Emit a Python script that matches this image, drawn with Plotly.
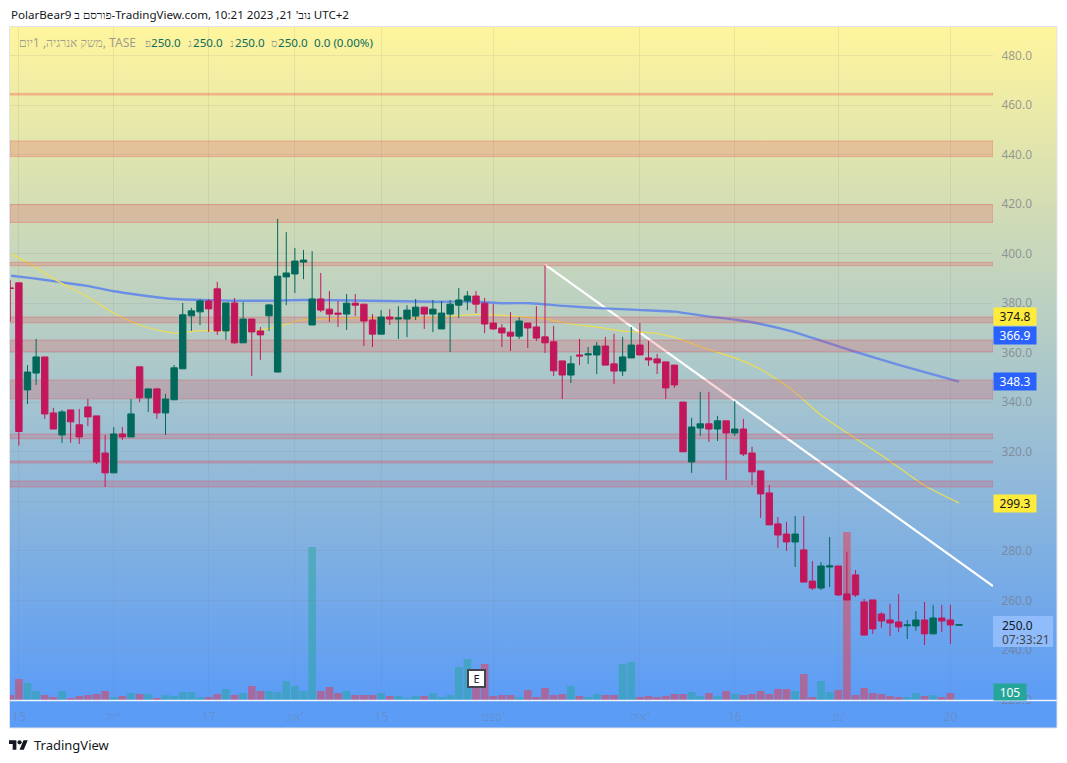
import base64
import plotly.graph_objects as go

W, H = 1067, 763

# ---- Data (index -1 is the bar cut by the left edge) ----
open_ = [386.1, 388.2, 345.0, 351.8, 358.3, 335.7, 326.8, 336.9, 330.9, 338.1, 334.5, 319.5, 311.5, 327.2, 326.0,
         354.3, 341.8, 345.4, 335.7, 341.0, 353.5, 374.9, 376.5, 380.9, 385.8, 368.8, 380.1, 364.0, 373.6, 368.8,
         374.9, 352.2, 390.6, 391.8, 396.6, 371.2, 381.7, 377.6, 376.0, 375.6, 380.0, 379.6, 373.2, 367.5, 374.4,
         373.6, 373.6, 374.8, 378.4, 375.6, 369.6, 375.6, 379.2, 380.9, 382.9, 380.0, 372.0, 370.0, 368.3, 366.7,
         372.0, 370.4, 366.4, 364.4, 356.7, 351.0, 359.1, 359.1, 359.1, 362.7, 355.5, 352.6, 357.9, 363.1, 357.9,
         357.5, 356.3, 355.0, 340.1, 315.9, 329.6, 331.3, 329.2, 332.5, 327.6, 329.2, 319.5, 312.3, 303.4, 290.9,
         286.8, 283.6, 280.4, 267.8, 265.0, 273.5, 273.9, 262.6, 270.3, 259.4, 260.2, 254.5, 252.1, 251.3, 249.8,
         249.7, 252.1, 246.5, 252.9, 252.1, 250.0]
high = [389.4, 388.2, 355.0, 365.6, 358.3, 337.7, 336.9, 336.9, 337.3, 341.3, 334.5, 326.8, 330.0, 330.0, 341.3,
        354.3, 345.4, 345.8, 343.4, 355.0, 380.1, 378.1, 381.7, 381.7, 388.6, 380.1, 382.1, 380.5, 373.6, 370.4,
        379.7, 414.0, 408.7, 402.3, 401.5, 401.0, 392.2, 384.9, 380.9, 383.7, 383.7, 379.6, 375.6, 377.2, 377.6,
        378.8, 379.2, 381.7, 378.4, 381.3, 380.9, 381.3, 386.1, 384.9, 384.9, 382.1, 379.6, 371.6, 376.4, 374.4,
        372.0, 378.8, 395.2, 370.8, 356.7, 358.7, 365.6, 362.3, 364.4, 366.4, 367.6, 366.4, 370.4, 372.0, 364.8,
        359.5, 356.3, 355.0, 340.1, 333.7, 344.2, 344.2, 334.5, 332.5, 340.5, 333.3, 322.0, 312.3, 306.6, 293.7,
        291.7, 294.1, 294.1, 275.9, 275.5, 285.6, 273.9, 279.6, 272.3, 260.6, 260.2, 255.3, 258.6, 262.6, 252.1,
        255.7, 259.4, 258.2, 258.2, 258.2, 250.2]
low = [372.6, 322.5, 339.3, 347.0, 333.3, 329.2, 323.6, 323.6, 323.2, 330.4, 315.1, 305.8, 311.5, 324.8, 326.0,
       340.1, 336.1, 333.3, 326.8, 341.0, 353.5, 368.8, 371.2, 368.4, 367.2, 365.2, 363.6, 364.0, 350.6, 357.1,
       368.8, 352.2, 379.2, 384.1, 389.7, 371.2, 376.4, 372.4, 370.4, 369.2, 374.8, 362.7, 362.3, 367.5, 371.2,
       365.5, 366.3, 373.2, 369.6, 368.3, 369.6, 360.3, 374.0, 377.2, 376.0, 367.9, 369.2, 362.3, 360.7, 365.5,
       361.9, 364.7, 359.9, 350.6, 341.3, 347.8, 355.0, 355.5, 351.4, 355.0, 347.4, 350.6, 357.9, 359.1, 354.7,
       351.4, 341.3, 345.8, 320.0, 311.5, 326.4, 324.0, 324.4, 308.6, 326.4, 318.3, 306.6, 293.3, 290.5, 281.2,
       280.0, 273.5, 267.4, 264.2, 264.2, 265.4, 261.8, 260.2, 261.4, 246.0, 246.5, 248.9, 245.6, 247.3, 244.4,
       247.7, 242.0, 246.5, 247.3, 242.4, 250.0]
close = [386.0, 328.2, 352.2, 358.3, 335.3, 329.2, 336.1, 332.1, 326.0, 334.1, 315.9, 311.5, 327.2, 326.0, 335.3,
         341.8, 345.4, 335.7, 341.3, 353.9, 375.3, 376.9, 380.9, 377.7, 368.8, 380.1, 364.0, 373.6, 368.4, 367.2,
         379.3, 390.9, 392.2, 397.0, 397.4, 381.7, 377.2, 375.6, 375.6, 380.0, 379.2, 372.8, 367.5, 374.4, 373.6,
         374.0, 377.2, 378.4, 375.6, 377.6, 376.0, 379.6, 381.3, 382.9, 379.6, 371.6, 369.6, 368.0, 366.7, 372.8,
         370.0, 365.9, 364.0, 352.7, 351.0, 355.5, 358.7, 359.5, 362.7, 355.0, 352.6, 358.3, 363.1, 359.1, 357.1,
         355.9, 345.8, 347.0, 320.0, 330.0, 331.3, 329.2, 332.5, 327.6, 329.2, 319.1, 311.9, 303.0, 290.5, 286.4,
         283.6, 286.8, 267.4, 265.0, 273.9, 273.9, 262.2, 260.2, 262.2, 246.0, 248.5, 251.7, 250.9, 249.3, 250.1,
         252.1, 246.5, 252.9, 251.7, 250.1, 250.2]

# Volume, read as bar heights (thirds of a pixel)
volume = [15, 63, 51, 27, 15, 9, 27, 6, 12, 15, 18, 27, 9, 12, 21, 18, 18, 6, 15, 12, 24, 24, 9, 9, 18, 33, 15, 21,
          42, 27, 27, 24, 57, 42, 27, 459, 27, 39, 21, 27, 15, 15, 15, 21, 12, 12, 6, 12, 12, 21, 9, 15, 99, 123, 90,
          108, 12, 15, 15, 9, 30, 9, 36, 15, 18, 42, 12, 9, 18, 15, 15, 108, 114, 9, 12, 9, 12, 18, 18, 24, 12, 21, 12,
          27, 18, 15, 18, 27, 18, 33, 33, 27, 78, 9, 57, 24, 30, 504, 15, 36, 21, 18, 12, 9, 9, 21, 12, 15, 9, 21, 2]

yellow_x = [-0.9, 1.7, 4.4, 7.9, 11, 14, 16.4, 18, 21, 24, 27, 29.1, 30.7, 32.8, 34.9, 38.8, 43.5, 48.5, 53.1, 58.5,
            61.3, 64, 67.1, 69.8, 73.7, 76, 79.9, 83.3, 86, 89.5, 93, 96.4, 100.8, 104.9, 109]
yellow_y = [399.9, 395.0, 389.1, 382.7, 375.9, 371.2, 368.9, 367.9, 368.9, 368.8, 368.8, 369.8, 371.2, 373.2, 373.6,
            374.0, 373.9, 374.3, 375.5, 374.5, 373.5, 371.6, 370.3, 368.8, 367.9, 366.2, 361.4, 357.5, 353.3, 345.4,
            334.8, 326.8, 316.7, 306.6, 299.3]
blue_x = [-0.9, 1.7, 4.4, 7.9, 11, 14, 17.2, 21, 24.9, 29.1, 32.9, 40.6, 48.3, 52.9, 56, 59.3, 63.2, 67.8, 71.7, 76,
          79.4, 83.3, 85.6, 89.5, 96.4, 102.2, 109]
blue_y = [391.1, 390.0, 388.7, 387.0, 384.8, 383.3, 381.9, 381.3, 381.0, 381.0, 381.3, 381.0, 380.6, 380.6, 380.0,
          380.0, 378.9, 377.9, 377.3, 376.6, 374.9, 373.2, 371.9, 368.7, 361.0, 354.9, 348.3]
trend_x = [61, 112.94]
trend_y = [395.6, 265.8]

zone_top = [464.7, 445.5, 419.8, 396.5, 374.4, 365.1, 349.0, 327.2, 316.3, 308.2]
zone_bottom = [464.0, 439.2, 412.6, 395.1, 372.1, 360.4, 341.4, 325.3, 315.5, 305.8]

tick_idx = [0, 11, 22, 32, 42, 55, 72, 83, 95, 108]
tick_labels = ["15", "יול'", "17", "אוג'", "15", "ספט'", "אוק'", "16", "נוב'", "20"]

title_text = "PolarBear9 פורסם ב-TradingView.com, נוב' 21, 2023 10:21 UTC+2"
legend_name = "משק אנרגיה, 1יום, TASE"

# ---- Styles ----
FONT = "Noto Sans"
GREEN, RED = "#00695C", "#C2185B"
GRID = "rgba(120,123,134,0.13)"
TEXT = "rgba(120,123,134,0.72)"
X_RANGE = [-1.03, 112.94]
Y_RANGE = [219.8, 491.5]
index = list(range(-1, len(open_) - 1))


def px(v):
    return v / W


def py(v):
    return 1 - v / H


gradient = (f'<svg xmlns="http://www.w3.org/2000/svg" width="{W}" height="{H}">'
            '<defs><linearGradient id="g" x1="0" y1="0" x2="0" y2="1">'
            '<stop offset="0" stop-color="#FFF59D"/><stop offset="1" stop-color="#5B9CF6"/>'
            f'</linearGradient></defs><rect width="{W}" height="{H}" fill="url(#g)"/></svg>')
logo = ('<svg xmlns="http://www.w3.org/2000/svg" width="36" height="28" viewBox="0 0 36 28">'
        '<path fill="#131722" d="M14 22H7V11H0V4h14v18zM28 22h-8l7.5-18h8L28 22z"/>'
        '<circle fill="#131722" cx="20" cy="8" r="4"/></svg>')


def uri(svg):
    return "data:image/svg+xml;base64," + base64.b64encode(svg.encode()).decode()


fig = go.Figure()

# Lines first, then the zones tint them, as in the reference
fig.add_trace(go.Scatter(x=trend_x, y=trend_y, mode="lines", line=dict(color="#FFFFFF", width=2.2)))
fig.add_trace(go.Scatter(x=blue_x, y=blue_y, mode="lines",
                         line=dict(color="#6C8FE6", width=2.4, shape="spline", smoothing=0.6)))
fig.add_trace(go.Scatter(x=yellow_x, y=yellow_y, mode="lines",
                         line=dict(color="#EBDD55", width=1.2, shape="spline", smoothing=0.6)))
for top, bottom in zip(zone_top, zone_bottom):
    fig.add_trace(go.Scatter(
        x=[X_RANGE[0], X_RANGE[1], X_RANGE[1], X_RANGE[0], X_RANGE[0]],
        y=[top, top, bottom, bottom, top],
        mode="lines", fill="toself", fillcolor="rgba(242,54,69,0.2)",
        line=dict(color="rgba(242,54,69,0.28)", width=1)))

# Volume
fig.add_trace(go.Bar(
    x=index, y=volume, yaxis="y2", width=0.88,
    marker=dict(line_width=0,
                color=["rgba(38,166,154,0.5)" if c >= o else "rgba(242,54,69,0.5)" for o, c in zip(open_, close)])))

# Candles
fig.add_trace(go.Candlestick(
    x=index, open=open_, high=high, low=low, close=close, yaxis="y3",
    increasing=dict(line=dict(color=GREEN, width=1), fillcolor=GREEN),
    decreasing=dict(line=dict(color=RED, width=1), fillcolor=RED)))


def note(text, x, y, **kw):
    base = dict(text=text, x=px(x), y=py(y), xref="paper", yref="paper", xanchor="left", yanchor="middle",
                showarrow=False, align="left", font=dict(family=FONT, size=11.6, color="#131722"))
    base.update(kw)
    return base


def tag(text, price, bg, fg, width=42, height=17):
    return dict(text=text, x=px(993), y=price, xref="paper", yref="y", xanchor="left", yanchor="middle",
                showarrow=False, align="center", width=width, height=height, bgcolor=bg, borderpad=0,
                font=dict(family=FONT, size=12, color=fg))


VALUE = dict(family=FONT, size=11.6, color="#0B6B5C")
GREY = dict(family=FONT, size=11.6, color=TEXT)
annotations = [
    note(title_text, 9, 14.5),
    note(legend_name, 17, 42, font=dict(family=FONT, size=12.1, color=TEXT)),
    note("פ", 143, 42, font=GREY),
    note("250.0", 149, 42, font=VALUE),
    note("ג", 186, 42, font=GREY),
    note("250.0", 191, 42, font=VALUE),
    note("נ", 228, 42, font=GREY),
    note("250.0", 233, 42, font=VALUE),
    note("ס", 269, 42, font=GREY),
    note("250.0", 276, 42, font=VALUE),
    note("0.0 (0.00%)", 312, 42, font=VALUE),
    note("TradingView", 32, 745, font=dict(family=FONT, size=13, color="#131722")),
    tag("374.8", 374.8, "#FFEB3B", "#131722"),
    tag("366.9", 366.9, "#2962FF", "#FFFFFF"),
    tag("348.3", 348.3, "#2962FF", "#FFFFFF"),
    tag("299.3", 299.3, "#FFEB3B", "#131722"),
    note("250.0", 1000, 625, font=dict(family=FONT, size=12, color="#131722")),
    note("07:33:21", 1000, 639, font=dict(family=FONT, size=12, color="#434651")),
    dict(text="105", x=px(993), y=py(692), xref="paper", yref="paper", xanchor="left", yanchor="middle",
         showarrow=False, align="center", width=32, height=16, bgcolor="#26A69A", borderpad=0,
         font=dict(family=FONT, size=12, color="#FFFFFF")),
    dict(text="E", x=px(476.5), y=py(687.5), xref="paper", yref="paper", showarrow=False, width=15, height=15,
         bgcolor="#FFFFFF", bordercolor="#434651", borderwidth=2, borderpad=0,
         font=dict(family=FONT, size=11, color="#131722")),
]

shapes = [
    dict(type="rect", xref="paper", yref="paper", x0=px(10), x1=px(1057), y0=py(728), y1=py(700),
         fillcolor="#5B9CF6", line_width=0, layer="below"),
    dict(type="line", xref="paper", yref="paper", x0=px(10), x1=px(1057), y0=py(700.5), y1=py(700.5),
         line=dict(color="#F0F3FA", width=1.5), layer="above"),
    dict(type="rect", xref="paper", yref="paper", x0=px(9.5), x1=px(1057), y0=py(728), y1=py(26.5),
         line=dict(color="#E0E3EB", width=1), layer="above"),
    dict(type="rect", xref="paper", yref="paper", x0=px(993), x1=px(1053), y0=py(647), y1=py(616),
         fillcolor="rgba(148,190,252,0.92)", line_width=0, layer="above"),
]

fig.update_layout(
    width=W, height=H, autosize=False, margin=dict(l=0, r=0, t=0, b=0),
    paper_bgcolor="#FFFFFF", plot_bgcolor="rgba(0,0,0,0)",
    showlegend=False, hovermode=False, boxgap=0.26, boxgroupgap=0, barmode="overlay",
    font=dict(family=FONT, size=12, color=TEXT),
    images=[
        dict(source=uri(gradient), xref="paper", yref="paper", x=px(10), y=py(27), sizex=px(1047), sizey=673 / H,
             sizing="stretch", xanchor="left", yanchor="top", layer="below"),
        dict(source=uri(logo), xref="paper", yref="paper", x=px(9), y=py(738), sizex=px(19), sizey=15 / H,
             sizing="contain", xanchor="left", yanchor="top", layer="above"),
    ],
    xaxis=dict(domain=[px(10), px(993)], range=X_RANGE, rangeslider=dict(visible=False), showgrid=True,
               automargin=False, gridcolor=GRID, gridwidth=1, zeroline=False, showline=False, tickmode="array",
               tickvals=tick_idx, ticktext=tick_labels, ticks="outside", ticklen=6, tickcolor="rgba(0,0,0,0)",
               tickfont=dict(family=FONT, size=12, color="rgba(120,123,134,0.38)")),
    yaxis=dict(domain=[py(700), py(27)], range=Y_RANGE, side="right", showgrid=True, gridcolor=GRID, gridwidth=1,
               automargin=False, zeroline=False, showline=False, tick0=0, dtick=20, tickformat=".1f",
               ticks="outside", ticklen=5, tickcolor="rgba(0,0,0,0)",
               tickfont=dict(family=FONT, size=12, color=TEXT)),
    yaxis2=dict(overlaying="y", range=[0, 2019], visible=False, automargin=False),
    yaxis3=dict(overlaying="y", range=Y_RANGE, visible=False, automargin=False),
    annotations=annotations, shapes=shapes,
)

fig.write_html("out.html", config=dict(displayModeBar=False),
               post_script="document.body.style.margin='0';document.documentElement.style.overflow='hidden';")
